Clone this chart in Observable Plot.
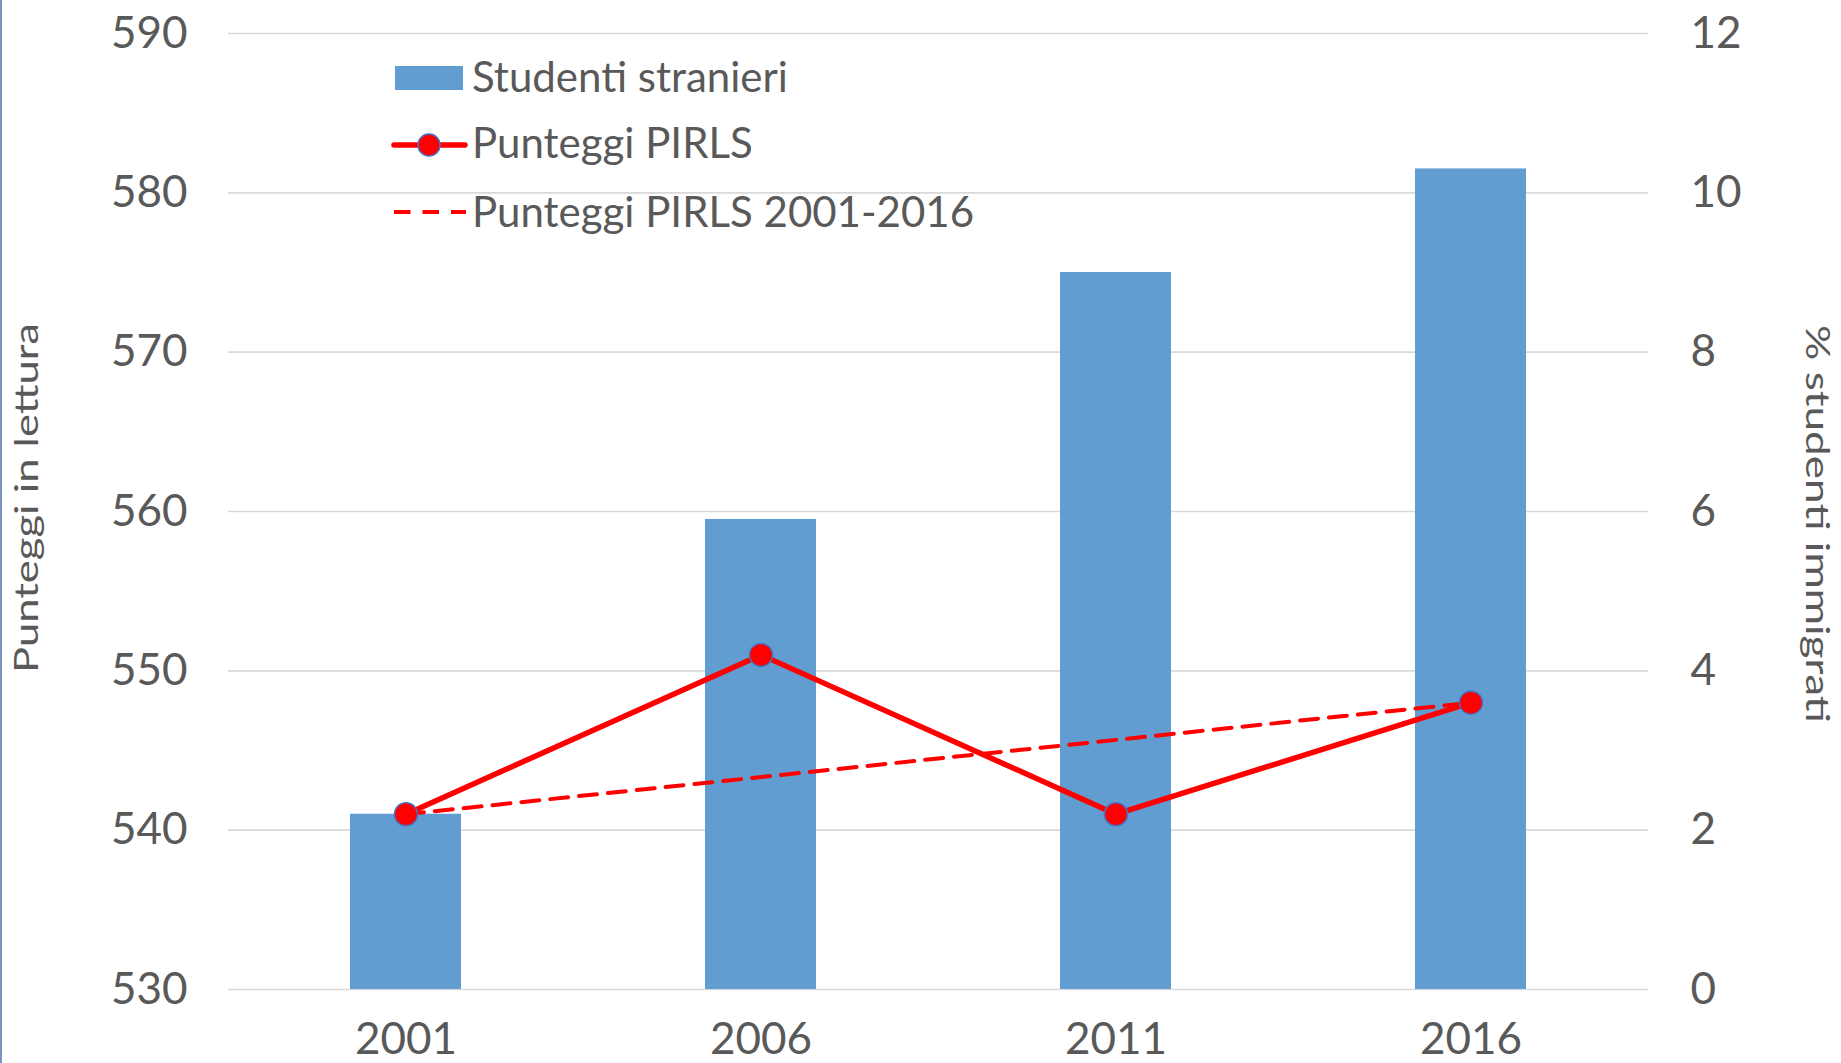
<!DOCTYPE html>
<html>
<head>
<meta charset="utf-8">
<script src="https://cdn.jsdelivr.net/npm/d3@7"></script>
<script src="https://cdn.jsdelivr.net/npm/@observablehq/plot@0.6"></script>
<style>
  html, body { margin: 0; padding: 0; background: #ffffff; }
  #wrap { position: relative; width: 1841px; height: 1063px; overflow: hidden; }
  #edge { position: absolute; left: 0; top: 0; width: 2px; height: 1063px; background: #7b93bd; }
</style>
</head>
<body>
<div id="wrap"><div id="edge"></div></div>
<script>
// ---- data ----
const years = ["2001", "2006", "2011", "2016"];
const pctStranieri = [2.2, 5.9, 9.0, 10.3];          // % studenti immigrati (right axis)
const punteggiPIRLS = [541, 551, 541, 548];          // punteggi in lettura (left axis)
const trendYears = ["2001", "2016"];
const trendScores = [541, 548];                      // Punteggi PIRLS 2001-2016
const leftTicks = [530, 540, 550, 560, 570, 580, 590];
const rightTicks = [0, 2, 4, 6, 8, 10, 12];
const labels = {
  left: "Punteggi in lettura",
  right: "% studenti immigrati",
  bars: "Studenti stranieri",
  line: "Punteggi PIRLS",
  trend: "Punteggi PIRLS 2001-2016"
};

// ---- tables ----
const barData = years.map((y, i) => ({year: y, pct: pctStranieri[i]}));
const lineData = years.map((y, i) => ({year: y, score: punteggiPIRLS[i]}));
const trendData = trendYears.map((y, i) => ({year: y, score: trendScores[i]}));

// right axis (0-12) mapped onto the left axis domain (530-590)
const toLeft = d3.scaleLinear([0, 12], [530, 590]);

const textColor = "#595959";
const barColor = "#629dd1";
const red = "#ff0000";

const chart = Plot.plot({
  width: 1841,
  height: 1063,
  marginLeft: 228,
  marginRight: 193,
  marginTop: 33,
  marginBottom: 74,
  style: {fontFamily: "Lato, 'Open Sans', sans-serif", fontSize: "44px", color: textColor, background: "transparent", overflow: "visible"},
  x: {type: "band", domain: years, paddingInner: 0.687, paddingOuter: 0.3435},
  y: {domain: [530, 590]},
  marks: [
    Plot.ruleY(leftTicks, {stroke: "#d9d9d9", strokeWidth: 1.7}),
    Plot.barY(barData, {x: "year", y1: 530, y2: d => toLeft(d.pct), fill: barColor}),
    Plot.line(trendData, {x: "year", y: "score", stroke: red, strokeWidth: 4, strokeDasharray: "18,11"}),
    Plot.line(lineData, {x: "year", y: "score", stroke: red, strokeWidth: 5.5}),
    Plot.dot(lineData, {x: "year", y: "score", r: 11.5, fill: red, stroke: "#4472c4", strokeWidth: 1.5}),
    Plot.axisY(leftTicks, {anchor: "left", tickSize: 0, tickPadding: 41, label: null}),
    Plot.axisY(rightTicks.map(v => toLeft(v)), {anchor: "right", tickSize: 0, tickPadding: 42, label: null,
      tickFormat: d => String(Math.round(toLeft.invert(d)))}),
    Plot.axisX({tickSize: 0, tickPadding: 33, label: null})
  ]
});

document.getElementById("wrap").appendChild(chart);
chart.style.position = "absolute";
chart.style.left = "0px";
chart.style.top = "0px";

const svg = d3.select(chart);

// axis titles
svg.append("text")
  .attr("transform", "translate(38,498) rotate(-90)")
  .attr("text-anchor", "middle")
  .attr("fill", textColor)
  .style("font-size", "32px")
  .attr("textLength", 350)
  .attr("lengthAdjust", "spacingAndGlyphs")
  .text(labels.left);

svg.append("text")
  .attr("transform", "translate(1806,524) rotate(90)")
  .attr("text-anchor", "middle")
  .attr("fill", textColor)
  .style("font-size", "32px")
  .attr("textLength", 398)
  .attr("lengthAdjust", "spacingAndGlyphs")
  .text(labels.right);

// legend
const lg = svg.append("g").style("font-size", "42px").attr("fill", textColor).attr("text-anchor", "start");
lg.append("rect").attr("x", 395).attr("y", 66).attr("width", 68).attr("height", 24).attr("fill", barColor);
lg.append("text").attr("x", 472).attr("y", 92).attr("text-anchor", "start").text(labels.bars);

lg.append("line").attr("x1", 394).attr("x2", 465).attr("y1", 145).attr("y2", 145)
  .attr("stroke", red).attr("stroke-width", 5.5).attr("stroke-linecap", "round");
lg.append("circle").attr("cx", 429).attr("cy", 145).attr("r", 11)
  .attr("fill", red).attr("stroke", "#4472c4").attr("stroke-width", 1.5);
lg.append("text").attr("x", 472).attr("y", 158).attr("text-anchor", "start").text(labels.line);

lg.append("line").attr("x1", 394).attr("x2", 466).attr("y1", 212).attr("y2", 212)
  .attr("stroke", red).attr("stroke-width", 4).attr("stroke-dasharray", "16.5,12");
lg.append("text").attr("x", 472).attr("y", 227).attr("text-anchor", "start").text(labels.trend);
</script>
</body>
</html>
